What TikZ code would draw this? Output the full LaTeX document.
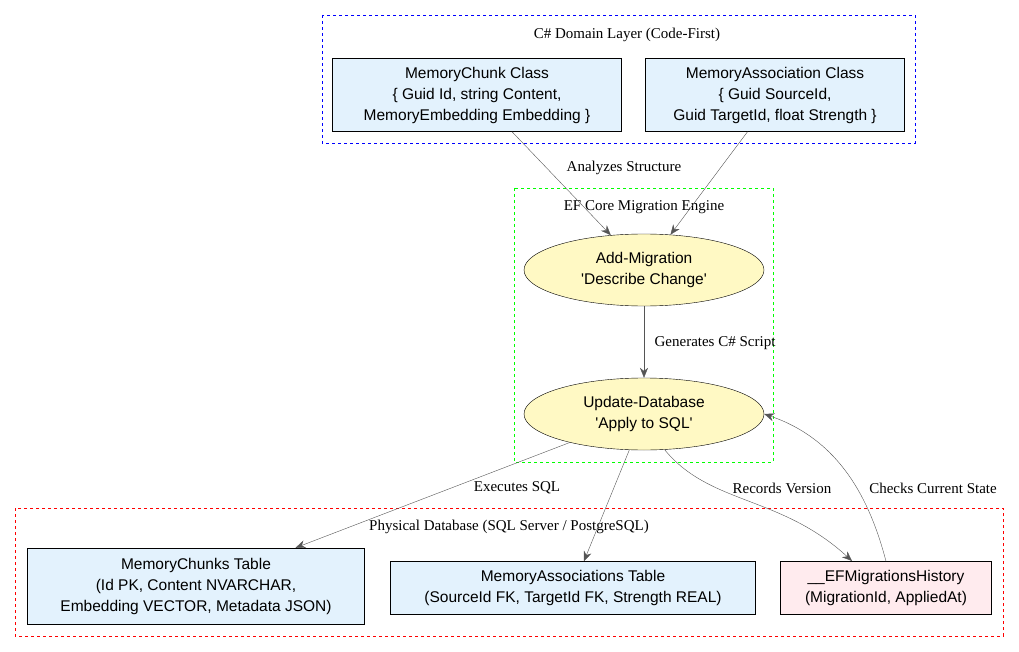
\documentclass[tikz,border=0pt]{standalone}
\usepackage{fontspec}
\setmainfont{Liberation Serif}
\newfontfamily\boxfont{Liberation Sans}
\usetikzlibrary{shapes.geometric, arrows.meta}
\definecolor{boxblue}{HTML}{E3F2FD}
\definecolor{boxyellow}{HTML}{FFF9C4}
\definecolor{boxpink}{HTML}{FFEBEE}
\definecolor{edgegray}{HTML}{555555}
\begin{document}
\begin{tikzpicture}[x=1pt, y=-1pt]
		\tikzstyle{cluster} = [draw, dashed, semithick]
		\tikzstyle{table} = [rectangle, draw, fill=boxblue, align=center, font=\boxfont\fontsize{15.5}{21}\selectfont, inner sep=0pt]
		\tikzstyle{command} = [ellipse, draw, fill=boxyellow, align=center, font=\boxfont\fontsize{15.5}{21}\selectfont, minimum width=240, minimum height=72, inner sep=0pt]
		\tikzstyle{connector} = [draw, edgegray, -{Stealth[length=10pt, width=8pt]}]
		\tikzstyle{tag} = [font=\fontsize{15}{17}\selectfont, inner sep=1pt]
		\useasboundingbox (0,0) rectangle (1019,652);
		% clusters
		\draw [cluster, blue] (322,15) rectangle (915,143);
		\node [tag] at (627,35) (domain) {C\# Domain Layer (Code-First)};
		\draw [cluster, green] (514,188) rectangle (773,462);
		\node [tag] at (644,207) (engine) {EF Core Migration Engine};
		\draw [cluster, red] (15,508) rectangle (1003,636);
		\node [tag] at (509,527) (physical) {Physical Database (SQL Server / PostgreSQL)};
		% nodes
		\node [table, minimum width=289, minimum height=73] at (477,95) (chunk) {MemoryChunk Class\\\{ Guid Id, string Content,\\MemoryEmbedding Embedding \}};
		\node [table, minimum width=259, minimum height=73] at (775,95) (assoc) {MemoryAssociation Class\\\{ Guid SourceId,\\Guid TargetId, float Strength \}};
		\node [command] at (644,270) (addmig) {Add-Migration\\'Describe Change'};
		\node [command] at (644,414) (update) {Update-Database\\'Apply to SQL'};
		\node [table, minimum width=337, minimum height=76] at (196,586) (chunks) {MemoryChunks Table\\(Id PK, Content NVARCHAR,\\Embedding VECTOR, Metadata JSON)};
		\node [table, minimum width=365, minimum height=53] at (573,588) (assocs) {MemoryAssociations Table\\(SourceId FK, TargetId FK, Strength REAL)};
		\node [table, fill=boxpink, minimum width=211, minimum height=53] at (886,588) (history) {\_\_EFMigrationsHistory\\(MigrationId, AppliedAt)};
		\coordinate (histin) at (852,561);
		% edges
		\path [connector] (chunk) -- (addmig);
		\node [tag] at (624,168) (l1) {Analyzes Structure};
		\path [connector] (assoc) -- (addmig);
		\path [connector] (addmig) -- (update);
		\node [tag] at (715,343) (l2) {Generates C\# Script};
		\path [connector] (update) -- (chunks);
		\node [tag] at (517,488) (l3) {Executes SQL};
		\path [connector] (update) -- (assocs);
		\path [connector] (update.-60) .. controls (710,505) and (780,495) .. (histin);
		\node [tag] at (782,488) (l4) {Records Version};
		\path [connector] (history.north) .. controls (870,500) and (840,440) .. (update.east);
		\node [tag] at (933,488) (l5) {Checks Current State};
	\end{tikzpicture}
\end{document}
